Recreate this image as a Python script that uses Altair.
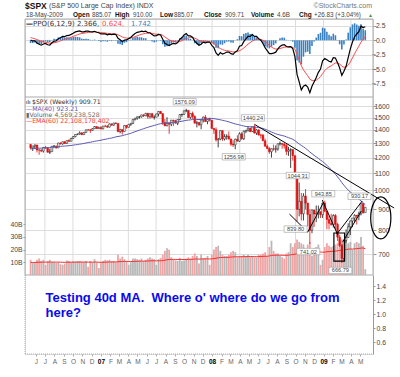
import numpy as np
import pandas as pd
import altair as alt

# ---------------- data (weekly, one value per week, weeks start Monday) ----------------
# closes from week of 1 Aug 2005 (warm-up for indicators) to week of 18 May 2009
close_2005 = [1226.4, 1237.8, 1219.7, 1205.1,
              1218.3, 1241.5, 1237.9, 1215.3, 1228.8,
              1196.0, 1186.6, 1179.6, 1198.4,
              1220.1, 1234.7, 1248.3, 1268.3,
              1265.1, 1259.4, 1267.3, 1268.7, 1248.3]
close_2006 = [1285.5, 1287.6, 1261.5, 1283.7,
              1264.0, 1266.9, 1287.2, 1289.4,
              1287.2, 1281.6, 1307.3, 1302.9, 1294.8,
              1295.5, 1289.1, 1311.3, 1310.6,
              1325.8, 1291.2, 1267.0, 1280.2,
              1288.2, 1252.3, 1251.5, 1244.5, 1270.2,
              1265.5, 1236.2, 1240.3, 1278.6,
              1279.4, 1266.7, 1302.3, 1295.1,
              1311.0, 1298.9, 1319.7, 1314.8, 1335.9,
              1349.6, 1365.6, 1368.6, 1377.3,
              1364.3, 1380.9, 1401.2, 1400.9,
              1396.7, 1409.8, 1427.1, 1410.8, 1418.3]
close_2007 = [1409.7, 1430.7, 1430.5, 1422.2,
              1448.4, 1438.1, 1455.5, 1451.2,
              1387.2, 1402.8, 1386.9, 1436.1, 1420.9,
              1443.8, 1452.9, 1484.4, 1494.1,
              1505.6, 1505.9, 1522.8, 1515.7,
              1536.3, 1507.7, 1532.9, 1502.6, 1503.4,
              1530.4, 1552.5, 1534.1, 1458.9,
              1433.1, 1453.6, 1445.9, 1479.4, 1473.9,
              1453.6, 1484.3, 1525.8, 1526.8,
              1557.6, 1561.8, 1500.6, 1535.3,
              1509.7, 1453.7, 1458.7, 1440.7, 1481.1,
              1504.7, 1467.9, 1484.5, 1478.5]
close_2008 = [1411.6, 1401.0, 1325.2, 1330.6,
              1395.4, 1331.3, 1349.0, 1353.1, 1330.6,
              1293.4, 1288.1, 1329.5, 1315.2,
              1370.4, 1332.8, 1390.3, 1397.8,
              1413.9, 1388.3, 1425.4, 1375.9, 1400.4,
              1360.7, 1360.0, 1317.9, 1278.4,
              1262.9, 1239.5, 1260.7, 1257.8,
              1260.3, 1296.3, 1298.2, 1292.2, 1282.8,
              1242.3, 1251.7, 1255.1, 1213.3,
              1099.2, 899.2, 940.6, 876.8, 968.8,
              931.0, 873.3, 800.0, 896.2,
              876.1, 879.7, 887.9, 872.8]
close_2009 = [931.8, 890.4, 850.1, 832.0, 825.9,
              868.6, 826.8, 770.1, 735.1,
              683.4, 756.6, 768.5, 815.9,
              842.5, 856.6, 869.6, 866.2,
              877.5, 929.2, 882.9, 909.7]

# weekly highs / lows, visible weeks only (from week of 15 May 2006)
high_2006 = [1294, 1281, 1290, 1288, 1258, 1257, 1272, 1280, 1273, 1261, 1280,
             1287, 1283, 1303, 1306, 1312, 1315, 1320, 1329, 1340, 1353, 1366,
             1372, 1389, 1382, 1382, 1403, 1407, 1407, 1415, 1431, 1428, 1427]
low_2006 = [1256, 1245, 1259, 1235, 1219, 1237, 1234, 1263, 1236, 1224, 1240,
            1265, 1262, 1266, 1291, 1290, 1294, 1297, 1309, 1314, 1331, 1344,
            1360, 1363, 1360, 1364, 1380, 1395, 1377, 1396, 1408, 1409, 1410]
high_2007 = [1429, 1432, 1441, 1440, 1452, 1451, 1457, 1461, 1452, 1410, 1407,
             1437, 1438, 1444, 1453, 1485, 1498, 1510, 1514, 1523, 1529, 1540,
             1540, 1534, 1540, 1520, 1533, 1556, 1556, 1535, 1488, 1503, 1456,
             1480, 1481, 1482, 1485, 1530, 1533, 1561, 1576.09, 1565, 1536,
             1552, 1520, 1474, 1462, 1488, 1508, 1523, 1485, 1500]
low_2007 = [1403, 1405, 1424, 1416, 1420, 1434, 1433, 1447, 1384, 1374, 1364,
            1387, 1410, 1420, 1432, 1446, 1476, 1482, 1491, 1500, 1505, 1512,
            1490, 1492, 1500, 1484, 1503, 1510, 1530, 1440, 1430, 1429, 1370,
            1430, 1432, 1453, 1439, 1476, 1507, 1525, 1546, 1500, 1490, 1489,
            1453, 1420, 1430, 1406, 1460, 1463, 1446, 1468]
high_2008 = [1479, 1416, 1420, 1339, 1396, 1396, 1368, 1367, 1389, 1335, 1321,
             1334, 1359, 1381, 1382, 1395, 1400, 1422, 1416, 1426, 1440.24, 1406,
             1404, 1370, 1370, 1334, 1291, 1272, 1262, 1290, 1284, 1297, 1313,
             1300, 1303, 1294, 1274, 1265, 1255, 1214, 1099, 1044.31, 985, 984,
             1007, 933, 900, 897, 896, 919, 918, 888]
low_2008 = [1411, 1370, 1312, 1270, 1322, 1317, 1320, 1326, 1330, 1280, 1273,
            1256.98, 1312, 1310, 1326, 1324, 1376, 1387, 1382, 1384, 1373, 1362,
            1359, 1335, 1317, 1278, 1257, 1225, 1200, 1247, 1234, 1247, 1283,
            1261, 1262, 1217, 1212, 1133, 1180, 1088, 839.8, 865, 845, 845,
            899, 818, 741.02, 787, 815, 837, 855, 857]
high_2009 = [934, 943.85, 891, 868, 877, 875, 876, 835, 780, 741, 758, 804, 832,
             845, 857, 875, 871, 888, 930.17, 924, 910]
low_2009 = [857, 885, 805, 804, 821, 812, 806, 754, 729, 666.79, 675, 747, 768,
            779, 814, 838, 826, 846, 870, 878, 885.07]

# weekly volume, billions of shares (same weeks as closes)
vol_2005 = [9.0, 9.5, 9.0, 8.5, 8.0, 9.0, 9.5, 9.5, 10.0, 10.5, 10.5, 10.0, 10.0,
            9.5, 10.0, 9.5, 7.0, 10.5, 10.0, 10.5, 6.5, 6.0]
vol_2006 = [10.0, 11.0, 12.0, 11.0, 11.0, 10.5, 10.5, 10.0, 10.5, 10.5, 11.0, 12.0,
            10.0, 10.0, 9.5, 10.5, 11.0, 10.5, 12.0,
            12.0, 9.5, 10.0, 12.0, 13.0, 11.0, 12.0, 8.0, 11.0, 12.0, 10.0, 10.0,
            9.5, 10.0, 8.5, 8.0, 9.0, 11.5, 11.0, 10.0, 11.0, 10.5, 11.0, 11.0,
            10.5, 10.0, 11.0, 6.5, 11.0, 10.0, 12.5, 10.0, 5.5]
vol_2007 = [9.5, 11.0, 12.0, 11.5, 12.0, 11.0, 11.0, 10.0, 16.0, 13.0, 14.5, 12.5,
            11.0, 8.0, 10.0, 13.0, 13.0, 12.5, 12.0, 13.0, 11.0, 12.0, 13.0, 14.0,
            13.0, 12.5, 8.0, 12.5, 13.5, 16.0, 19.0, 21.0, 20.0, 14.0, 12.0, 11.5,
            11.0, 13.5, 11.0, 11.5, 13.0, 14.0, 13.0, 15.0, 17.0, 15.0, 9.0, 16.0,
            13.0, 13.5, 15.0, 8.0]
vol_2008 = [16.0, 20.0, 22.0, 23.0, 19.0, 16.0, 15.0, 15.0, 16.0, 18.0, 19.0, 18.0,
            14.0, 15.0, 15.0, 16.0, 15.0, 16.0, 14.0, 15.0, 14.0, 14.0, 16.0, 16.0,
            17.0, 18.0, 15.0, 22.0, 27.0, 19.0, 17.0, 17.0, 15.0, 14.0, 13.0, 17.0,
            18.0, 25.0, 22.0, 25.0, 28.0, 26.0, 25.0, 24.0, 21.0, 24.0, 26.0, 15.0,
            21.0, 22.0, 24.0, 8.0]
vol_2009 = [12.0, 22.0, 25.0, 23.0, 22.0, 23.0, 24.0, 25.0, 27.0, 28.0, 27.0, 28.0,
            25.0, 26.0, 20.0, 25.0, 26.0, 25.0, 30.0, 23.0, 4.57]

# annotations (price labels, hand-drawn lines, box, ellipse)
lab_up_text = ["1576.09", "1440.24", "1044.31", "943.85", "930.17"]
lab_up_date = ["2007-10-08", "2008-05-19", "2008-10-13", "2009-01-05", "2009-05-04"]
lab_up_price = [1576.09, 1440.24, 1044.31, 943.85, 930.17]
lab_dn_text = ["1256.98", "839.80", "741.02", "666.79"]
lab_dn_date = ["2008-03-17", "2008-10-06", "2008-11-17", "2009-03-02"]
lab_dn_price = [1256.98, 839.80, 741.02, 666.79]

seg_d1 = ["2008-05-19", "2008-09-11", "2008-11-10", "2008-12-28", "2009-02-14", "2009-03-05"]
seg_p1 = [1445, 876, 792, 947, 784, 750]
seg_d2 = ["2009-08-21", "2008-11-10", "2008-12-31", "2009-02-17", "2009-05-08", "2009-05-05"]
seg_p2 = [906, 792, 932, 779, 942, 891]
box_d = ["2009-02-04", "2009-03-11"]
box_p = [674, 788]
ell_date = ["2009-07-08"]
ell_price = [857]

quarters = ["2006-07-01", "2006-10-01", "2007-01-01", "2007-04-01", "2007-07-01",
            "2007-10-01", "2008-01-01", "2008-04-01", "2008-07-01", "2008-10-01",
            "2009-01-01", "2009-04-01"]
# month ticks on the time axis: (year, month) from Jun 2006 to May 2009
tick_months = [(2006, m) for m in range(6, 13)] + [(2007, m) for m in range(1, 13)] + \
              [(2008, m) for m in range(1, 13)] + [(2009, m) for m in range(1, 6)]

note_lines = ["Testing 40d MA.\u00a0 Where o' where do we go from", "here?"]
note_date = ["2006-07-03", "2006-07-03"]
note_val = [1.228, 1.014]

# ---------------- tables ----------------
close = close_2005 + close_2006 + close_2007 + close_2008 + close_2009
vol = vol_2005 + vol_2006 + vol_2007 + vol_2008 + vol_2009
high = high_2006 + high_2007 + high_2008 + high_2009
low = low_2006 + low_2007 + low_2008 + low_2009

dates = pd.date_range(end="2009-05-18", periods=len(close), freq="W-MON")
df = pd.DataFrame({"date": dates, "close": close, "vol": vol})
df["open"] = df["close"].shift(1)
df["ma40"] = df["close"].rolling(40).mean()
ema6 = df["close"].ewm(span=6, adjust=False).mean()
ema12 = df["close"].ewm(span=12, adjust=False).mean()
df["ppo"] = (ema6 - ema12) / ema12 * 100
df["signal"] = df["ppo"].ewm(span=9, adjust=False).mean()
df["hist"] = df["ppo"] - df["signal"]
df["vema"] = df["vol"].ewm(span=60, adjust=False).mean()
vis = df.iloc[len(df) - len(high):].copy().reset_index(drop=True)
vis["high"] = high
vis["low"] = low

lab_up = pd.DataFrame({"date": pd.to_datetime(lab_up_date), "price": lab_up_price, "label": lab_up_text})
lab_dn = pd.DataFrame({"date": pd.to_datetime(lab_dn_date), "price": lab_dn_price, "label": lab_dn_text})
segs = pd.DataFrame({"date": pd.to_datetime(seg_d1), "p1": seg_p1, "d2": pd.to_datetime(seg_d2), "p2": seg_p2})
box = pd.DataFrame({"date": [pd.to_datetime(box_d[0])], "d2": [pd.to_datetime(box_d[1])],
                    "p1": [box_p[0]], "p2": [box_p[1]]})
ell = pd.DataFrame({"date": pd.to_datetime(ell_date), "price": ell_price})
qdf = pd.DataFrame({"date": pd.to_datetime(quarters)})
note = pd.DataFrame({"date": pd.to_datetime(note_date), "v": note_val, "t": note_lines})

# ---------------- scales / axes ----------------
FONT = "Liberation Sans"
LEG = "DejaVu Sans"
W, H = 348, 335
x_scale = alt.Scale(domain=[alt.DateTime(year=2006, month=5, date=13),
                            alt.DateTime(year=2009, month=5, date=27)], nice=False)
ppo_scale = alt.Scale(domain=[-9.84, 3.70], range=[78, 0], nice=False, zero=False)
price_scale = alt.Scale(type="log", domain=[623.5, 1682.7], range=[256, 78], nice=False)
vol_scale = alt.Scale(domain=[0, 140.2], range=[256, 78], nice=False)
low_scale = alt.Scale(domain=[0.43, 1.557], range=[335, 256], nice=False, zero=False)

x_axis = alt.Axis(orient="bottom", values=[alt.DateTime(year=y, month=m, date=1) for y, m in tick_months],
                  labelExpr="month(datum.value) == 0 ? timeFormat(datum.value, '%y') : slice(timeFormat(datum.value, '%b'), 0, 1)",
                  labelFont=FONT, labelFontSize=6.5, labelAlign="center",
                  labelColor={"condition": {"test": "month(datum.value) == 0", "value": "#000000"}, "value": "#666666"},
                  labelFontWeight={"condition": {"test": "month(datum.value) == 0", "value": "bold"}, "value": "normal"},
                  labelOverlap=False, labelFlush=False, labelPadding=2, tickSize=2,
                  tickColor="#aaaaaa", domain=False, grid=False, title=None)

ax_common = dict(labelFont=FONT, labelFontSize=6.8, labelColor="#444444", tickColor="#999999",
                 domain=False, title=None)
price_axis = alt.Axis(orient="right", values=[700, 800, 900, 1000, 1100, 1200, 1300, 1400, 1500, 1600],
                      format="d", grid=True, gridColor="#dcdcdc", gridWidth=1, tickSize=3,
                      labelAlign="right", labelPadding=13, **ax_common)
ppo_axis = alt.Axis(orient="right", values=[2.5, 0, -2.5, -5, -7.5], format=".1f", grid=True,
                    gridColor="#dcdcdc", tickSize=3, labelAlign="right", labelPadding=9, **ax_common)
vol_axis = alt.Axis(orient="left", values=[10, 20, 30, 40], labelExpr="datum.value + 'B'", grid=False,
                    tickSize=2, labelPadding=1, **ax_common)
low_axis = alt.Axis(orient="right", values=[0.6, 0.8, 1.0, 1.2, 1.4], format=".1f", grid=False,
                    tickSize=2, labelPadding=1, labelFont=FONT, labelFontSize=6.8, labelColor="#444444",
                    tickColor="#999999", domain=True, domainColor="#999999", title=None)


def X(field="date"):
    return alt.X(f"{field}:T", scale=x_scale, axis=x_axis)


def YP(field):
    return alt.Y(f"{field}:Q", scale=price_scale, axis=price_axis)


def YV(field):
    return alt.Y(f"{field}:Q", scale=vol_scale, axis=vol_axis)


def YO(field):
    return alt.Y(f"{field}:Q", scale=ppo_scale, axis=ppo_axis)


one = alt.Data(values=[{"k": 1}])


def txt(s, x, y, size=6.5, weight="normal", color="#333333", align="left", font=FONT):
    return alt.Chart(one).mark_text(text=s, align=align, baseline="middle", fontSize=size,
                                    fontWeight=weight, color=color, font=font).encode(
        x=alt.value(x), y=alt.value(y))


def hline(y, x1=0, x2=W, color="#aaaaaa", dash=(1, 0)):
    return alt.Chart(one).mark_rule(color=color, strokeWidth=1, strokeDash=list(dash)).encode(
        x=alt.value(x1), x2=alt.value(x2), y=alt.value(y))


def vline(x, y1, y2, color="#aaaaaa", dash=(1, 0)):
    return alt.Chart(one).mark_rule(color=color, strokeWidth=1, strokeDash=list(dash)).encode(
        x=alt.value(x), y=alt.value(y1), y2=alt.value(y2))


# ---------------- layers ----------------
grid_v = alt.Chart(qdf).mark_rule(color="#dcdcdc", strokeWidth=1).encode(
    x=X(), y=alt.value(0), y2=alt.value(256))

frames = [hline(0), hline(78), hline(256), vline(0, 0, 256), vline(W, 0, 256),
          vline(0, 256, H, color="#b0b0b0", dash=(1, 1)),
          hline(H, color="#b0b0b0", dash=(1, 1))]

up_down = "datum.close < datum.open"
base = alt.Chart(vis)

# volume
vol_bars = base.mark_bar(size=1.8).encode(
    x=X(), y=YV("vol"),
    color=alt.condition(up_down, alt.value("#f0a4a4"), alt.value("#b8b8b8")))
vol_ema = base.mark_line(color="#ff2a2a", strokeWidth=1).encode(x=X(), y=YV("vema"))
vol_group = alt.layer(vol_bars, vol_ema)

# price
wicks = base.mark_rule(strokeWidth=0.8).encode(
    x=X(), y=YP("low"), y2="high:Q",
    color=alt.condition(up_down, alt.value("#e01010"), alt.value("#111111")))
bodies = base.mark_bar(size=1.7, strokeWidth=0.5).encode(
    x=X(), y=YP("open"), y2="close:Q",
    fill=alt.condition(up_down, alt.value("#e01010"), alt.value("#ffffff")),
    stroke=alt.condition(up_down, alt.value("#e01010"), alt.value("#111111")))
ma = base.mark_line(color="#5a5ab4", strokeWidth=1).encode(x=X(), y=YP("ma40"))
lines = alt.Chart(segs).mark_rule(color="#000000", strokeWidth=1).encode(
    x=X(), x2="d2:T", y=YP("p1"), y2="p2:Q")
boxm = alt.Chart(box).mark_rect(fill=None, stroke="#000000", strokeWidth=1.2).encode(
    x=X(), x2="d2:T", y=YP("p1"), y2="p2:Q")
ELL = "M0,-1C0.265,-1,0.48,-0.552,0.48,0C0.48,0.552,0.265,1,0,1C-0.265,1,-0.48,0.552,-0.48,0C-0.48,-0.552,-0.265,-1,0,-1Z"
ellm = alt.Chart(ell).mark_point(shape=ELL, size=1764, filled=False, stroke="#000000",
                                 strokeWidth=1.2, opacity=1).encode(x=X(), y=YP("price"))
BOX = "M-1,-0.28L1,-0.28L1,0.28L-1,0.28Z"


def labels(d, dy):
    b = alt.Chart(d).mark_point(shape=BOX, size=529, filled=True, fill="#ffffff", stroke="#9a9a9a",
                                strokeWidth=0.6, opacity=1, yOffset=dy, xOffset=-1.5).encode(
        x=X(), y=YP("price"))
    t = alt.Chart(d).mark_text(fontSize=5.6, font=FONT, color="#444444", dy=dy, dx=-1.5,
                               baseline="middle").encode(x=X(), y=YP("price"), text="label:N")
    return [b, t]


price_group = alt.layer(wicks, bodies, ma, lines, boxm, ellm,
                        *labels(lab_up, -7), *labels(lab_dn, 7.5))

# PPO
hist = base.mark_bar(size=1.6, color="#3a80c0").encode(x=X(), y=YO("hist"))
sig = base.mark_line(color="#ff4a4a", strokeWidth=1).encode(x=X(), y=YO("signal"))
ppo = base.mark_line(color="#000000", strokeWidth=1.2).encode(x=X(), y=YO("ppo"))
ppo_group = alt.layer(hist, sig, ppo)

# lower (note) panel
note_m = alt.Chart(note).mark_text(align="left", baseline="middle", font=FONT, fontSize=13,
                                   fontWeight="bold", color="#0a0aee").encode(
    x=X(), y=alt.Y("v:Q", scale=low_scale, axis=low_axis), text="t:N")

# texts: header and legends (pixel layout relative to plot origin)
header = [
    txt("$SPX", 0, -13, size=8.5, weight="bold", color="#111111"),
    txt("(S&P 500 Large Cap Index)  INDX", 24, -13, size=7, color="#444444"),
    txt("18-May-2009", 1, -4, size=6.3, color="#444444"),
    txt("Open", 48, -4, size=6.5, weight="bold", color="#111111"),
    txt("885.07", 67, -4, size=6.3, color="#444444"),
    txt("High", 90, -4, size=6.5, weight="bold", color="#111111"),
    txt("910.00", 108, -4, size=6.3, color="#444444"),
    txt("Low", 135, -4, size=6.5, weight="bold", color="#111111"),
    txt("885.07", 149, -4, size=6.3, color="#444444"),
    txt("Close", 179, -4, size=6.5, weight="bold", color="#111111"),
    txt("909.71", 200, -4, size=6.3, color="#444444"),
    txt("Volume", 226, -4, size=6.5, weight="bold", color="#111111"),
    txt("4.6B", 252, -4, size=6.3, color="#444444"),
    txt("Chg", 274, -4, size=6.5, weight="bold", color="#111111"),
    txt("+26.83 (+3.04%)", 289, -4, size=6.3, color="#444444"),
    txt("\u25b2", 343, -4, size=5, color="#3a9a3a"),
    txt("\u00a9StockCharts.com", 347, -13, size=7, color="#777777", align="right"),
    txt("\u2014", 1, 5, size=7, color="#000000", font=LEG, weight="bold"),
    txt("PPO(6,12,9) 2.366,", 8, 5, size=7, color="#333333", font=LEG),
    txt("0.624,", 77, 5, size=7, color="#ff4a4a", font=LEG),
    txt("1.742", 106, 5, size=7, color="#3a80c0", font=LEG),
    txt("\u0131l\u0131", 1, 83.2, size=5.5, color="#000000", font=LEG),
    txt("$SPX (Weekly) 909.71", 7, 83.2, size=6.2, color="#333333", font=LEG),
    txt("\u2014MA(40) 923.21", 1, 89.5, size=6.2, color="#5a5ab4", font=LEG),
    txt("\u25aeVolume 4,569,238,528", 1, 95.8, size=6.2, color="#666666", font=LEG),
    txt("\u2014EMA(60) 22,108,178,402", 1, 102.1, size=6.2, color="#ff3030", font=LEG),
]

chart = alt.layer(
    grid_v, *frames, vol_group, price_group, ppo_group, note_m, *header
).resolve_scale(y="independent").properties(
    width=W, height=H, autosize=alt.AutoSizeParams(type="none"),
    padding={"left": 25, "top": 19, "right": 27, "bottom": 23}
).configure_view(stroke="transparent").configure(background="white")

chart.save("out.html", embed_options={"renderer": "svg", "actions": False})
